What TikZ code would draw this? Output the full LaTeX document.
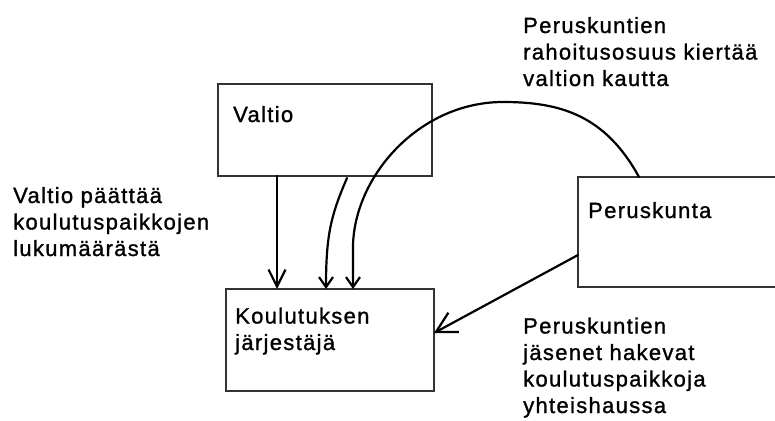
\documentclass[tikz,border=0pt]{standalone}
\usepackage{fontspec}
\setmainfont{Liberation Sans}[LetterSpace=6.0,FakeBold=1.2]
\usetikzlibrary{arrows.meta,calc}
\begin{document}
\begin{tikzpicture}[x=1pt,y=-1pt,
  box/.style={draw=black!80, line width=1.4pt, rectangle, inner sep=0pt,
              outer sep=0pt, anchor=north west},
  lbl/.style={inner sep=0pt, anchor=base west, align=left,
              font=\fontsize{22}{26.5}\selectfont},
  conn/.style={line width=2.2pt, line cap=round},
  bigtip/.style={-{Straight Barb[length=17pt,width=17pt,line width=2.2pt]}},
  smalltip/.style={-{Straight Barb[length=10pt,width=14pt,line width=2.2pt]}},
  widetip/.style={-{Straight Barb[length=20pt,width=22pt,line width=2.2pt]}}]
\useasboundingbox (0,0) rectangle (775,420);
\clip (0,0) rectangle (775,420);

% boxes
\node[box, minimum width=214pt, minimum height=92pt]  (val) at (218,84)  {};
\node[box, minimum width=208pt, minimum height=102pt] (kou) at (226,289) {};
\node[box, minimum width=240pt, minimum height=110pt] (per) at (578,177) {};

% box titles (multi-line nodes sit on the baseline of their last line)
\node[lbl] (valtxt) at ($(val.north west)+(15,38)$) {Valtio};
\node[lbl] (koutxt) at ($(kou.north west)+(9,61)$) {Koulutuksen\\järjestäjä};
\node[lbl] (pertxt) at ($(per.north west)+(10,41)$) {Peruskunta};

% free labels
\node[lbl] (rahoitus) at (523,86) {Peruskuntien\\rahoitusosuus kiertää\\valtion kautta};
\node[lbl] (paattaa) at (13,256) {Valtio päättää\\koulutuspaikkojen\\lukumäärästä};
\node[lbl] (haku) at (523,413) {Peruskuntien\\jäsenet hakevat\\koulutuspaikkoja\\yhteishaussa};

% anchor points on the box borders
\coordinate (s1)   at ($(val.south west)+(59,0)$);
\coordinate (c1s)  at ($(val.south west)+(129,2)$);
\coordinate (c1e)  at ($(kou.north west)+(100,0)$);
\coordinate (arcS) at ($(per.north west)+(61,0)$);
\coordinate (arcT) at (503,102);
\coordinate (arcV) at ($(kou.north west)+(127,-44)$);
\coordinate (arcE) at ($(kou.north west)+(127,0)$);
\coordinate (dS)   at ($(per.north west)+(0,78)$);
\coordinate (dE)   at ($(kou.north east)+(0,44)$);

% connectors
\draw[conn, bigtip] (s1) -- (s1 |- kou.north);
\draw[conn, smalltip] (c1s) .. controls ($(c1s)+(-16,37)$) and ($(c1e)+(0,-54)$) .. (c1e);
\draw[conn, smalltip] (arcS) .. controls +(-34,-62) and +(57,0) .. (arcT)
  .. controls +(-83,0) and +(2,-70) .. (arcV) -- (arcE);
\draw[conn, widetip] (dS) -- (dE);
\end{tikzpicture}
\end{document}
